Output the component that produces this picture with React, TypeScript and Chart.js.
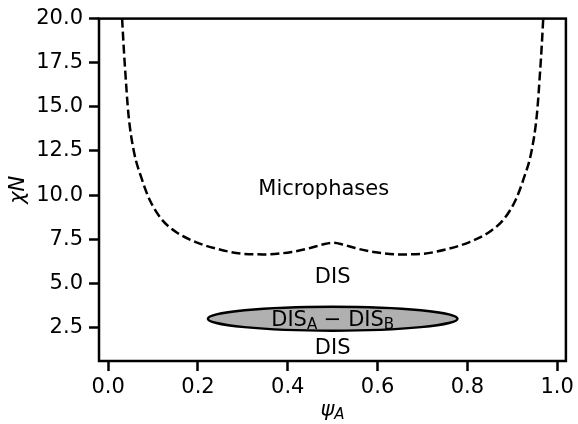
import React, { useEffect, useRef } from "react";
import { Chart, registerables } from "chart.js";

Chart.register(...registerables);

// Spinodal (dashed) line: psi_A vs chiN
const psiA = [0.031, 0.034, 0.038, 0.045, 0.057, 0.075, 0.092, 0.118, 0.151, 0.195, 0.240, 0.298, 0.350, 0.409, 0.450, 0.480, 0.500, 0.520, 0.550, 0.591, 0.650, 0.702, 0.760, 0.805, 0.849, 0.882, 0.908, 0.925, 0.943, 0.955, 0.962, 0.966, 0.969];
const chiN = [20.0, 18.6, 17.0, 14.6, 12.5, 10.9, 9.75, 8.66, 7.91, 7.34, 6.97, 6.68, 6.64, 6.78, 7.0, 7.22, 7.30, 7.22, 7.0, 6.78, 6.64, 6.68, 6.97, 7.34, 7.91, 8.66, 9.75, 10.9, 12.5, 14.6, 17.0, 18.6, 20.0];

const xTicks = [0.0, 0.2, 0.4, 0.6, 0.8, 1.0];
const yTicks = [2.5, 5.0, 7.5, 10.0, 12.5, 15.0, 17.5, 20.0];
const xMin = -0.0205;
const xMax = 1.0195;
const yMin = 0.6;
const yMax = 20.0;

// Two-phase region (ellipse): centre and half-widths in data units
const blobCenter = [0.5, 3.0];
const blobRadii = [0.278, 0.68];

const regionLabels = ["Microphases", "DIS", "DIS"];
const regionX = [0.48, 0.5, 0.5];
const regionY = [10.0, 5.0, 1.0];
const blobLabelAt = [0.5, 2.6];

const FONT = '"DejaVu Sans", sans-serif';

const overlay = {
  id: "overlay",
  afterDatasetsDraw(chart: any) {
    const { ctx, chartArea, scales } = chart;
    const { left, top, right, bottom } = chartArea;
    const xs = scales.x;
    const ys = scales.y;
    ctx.save();

    // ellipse
    const cx = xs.getPixelForValue(blobCenter[0]);
    const cy = ys.getPixelForValue(blobCenter[1]);
    const rx = Math.abs(xs.getPixelForValue(blobCenter[0] + blobRadii[0]) - cx);
    const ry = Math.abs(ys.getPixelForValue(blobCenter[1] + blobRadii[1]) - cy);
    ctx.beginPath();
    ctx.ellipse(cx, cy, rx, ry, 0, 0, Math.PI * 2);
    ctx.fillStyle = "#b0b0b0";
    ctx.fill();
    ctx.lineWidth = 2.5;
    ctx.strokeStyle = "#000";
    ctx.stroke();

    // region labels
    ctx.fillStyle = "#000";
    ctx.font = `21px ${FONT}`;
    ctx.textAlign = "center";
    ctx.textBaseline = "alphabetic";
    regionLabels.forEach((t, i) => {
      ctx.fillText(t, xs.getPixelForValue(regionX[i]), ys.getPixelForValue(regionY[i]));
    });

    // DIS_A − DIS_B
    const parts: [string, boolean][] = [["DIS", false], ["A", true], [" \u2212 ", false], ["DIS", false], ["B", true]];
    const mainF = `21px ${FONT}`;
    const subF = `15px ${FONT}`;
    let total = 0;
    parts.forEach(([t, sub]) => {
      ctx.font = sub ? subF : mainF;
      total += ctx.measureText(t).width;
    });
    let px = xs.getPixelForValue(blobLabelAt[0]) - total / 2;
    const py = ys.getPixelForValue(blobLabelAt[1]);
    ctx.textAlign = "left";
    parts.forEach(([t, sub]) => {
      ctx.font = sub ? subF : mainF;
      ctx.fillText(t, px, py + (sub ? 3 : 0));
      px += ctx.measureText(t).width;
    });

    // frame
    ctx.lineWidth = 2.5;
    ctx.strokeStyle = "#000";
    ctx.strokeRect(left, top, right - left, bottom - top);

    // y title
    ctx.save();
    ctx.translate(24, (top + bottom) / 2);
    ctx.rotate(-Math.PI / 2);
    ctx.textAlign = "center";
    ctx.textBaseline = "alphabetic";
    ctx.font = `italic 21px ${FONT}`;
    ctx.fillText("\u03c7N", 0, 0);
    ctx.restore();

    // x title
    ctx.font = `italic 21px ${FONT}`;
    const w1 = ctx.measureText("\u03c8").width;
    ctx.font = `italic 15px ${FONT}`;
    const w2 = ctx.measureText("A").width;
    let tx = (left + right) / 2 - (w1 + w2) / 2;
    ctx.textAlign = "left";
    ctx.font = `italic 21px ${FONT}`;
    ctx.fillText("\u03c8", tx, 416);
    tx += w1;
    ctx.font = `italic 15px ${FONT}`;
    ctx.fillText("A", tx, 419);

    ctx.restore();
  },
};

export default function App() {
  const ref = useRef<HTMLCanvasElement | null>(null);
  useEffect(() => {
    if (!ref.current) return;
    const tickFont = { family: FONT, size: 21 };
    const chart = new Chart(ref.current, {
      type: "line",
      data: {
        datasets: [
          {
            data: psiA.map((x, i) => ({ x, y: chiN[i] })),
            borderColor: "#000",
            borderWidth: 2.5,
            borderDash: [9, 4],
            pointRadius: 0,
            fill: false,
            cubicInterpolationMode: "monotone",
          },
        ],
      },
      options: {
        animation: false,
        responsive: false,
        maintainAspectRatio: false,
        layout: { padding: { top: 18, right: 8, left: 0, bottom: 0 } },
        plugins: { legend: { display: false }, tooltip: { enabled: false } },
        scales: {
          x: {
            type: "linear",
            min: xMin,
            max: xMax,
            afterBuildTicks: (s: any) => {
              s.ticks = xTicks.map((v) => ({ value: v }));
            },
            afterFit: (s: any) => {
              s.height = 63;
            },
            grid: { drawOnChartArea: false, drawTicks: true, tickLength: 10, tickWidth: 2.5, tickColor: "#000" },
            border: { display: false },
            ticks: {
              color: "#000",
              font: tickFont,
              padding: 4,
              maxRotation: 0,
              autoSkip: false,
              callback: (v: any) => Number(v).toFixed(1),
            },
          },
          y: {
            type: "linear",
            min: yMin,
            max: yMax,
            afterBuildTicks: (s: any) => {
              s.ticks = yTicks.map((v) => ({ value: v }));
            },
            afterFit: (s: any) => {
              s.width = 99;
            },
            grid: { drawOnChartArea: false, drawTicks: true, tickLength: 10, tickWidth: 2.5, tickColor: "#000" },
            border: { display: false },
            ticks: {
              color: "#000",
              font: tickFont,
              padding: 6,
              autoSkip: false,
              callback: (v: any) => Number(v).toFixed(1),
            },
          },
        },
      },
      plugins: [overlay],
    } as any);
    return () => chart.destroy();
  }, []);
  return (
    <div style={{ position: "absolute", left: 0, top: 0, width: 578, height: 424, background: "#fff" }}>
      <canvas ref={ref} width={578} height={424} style={{ width: 578, height: 424, display: "block" }} />
    </div>
  );
}
